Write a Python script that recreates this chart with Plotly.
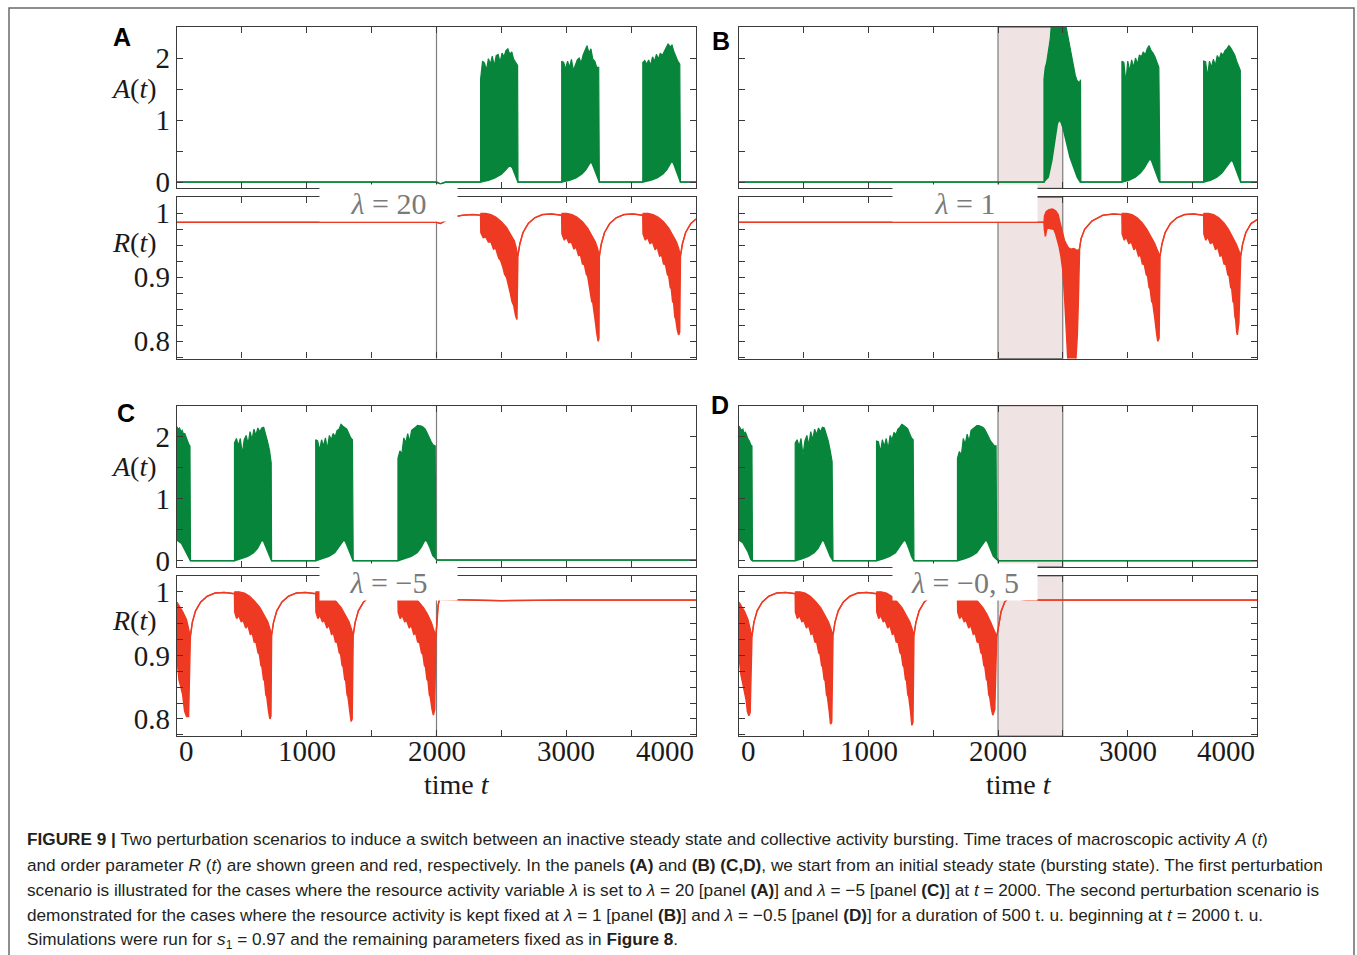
import plotly.graph_objects as go

# ---------------------------------------------------------------------------
# Time traces (t, value).  Bursting phases are stored as an upper ("hi") and a
# lower ("lo") envelope; the area between them is filled.  Quiet phases repeat
# the same points in both envelopes.
# ---------------------------------------------------------------------------

# Panel A: lambda = 20 applied at t = 2000
a_act_hi = [
    (0, 0), (2000, 0), (2030, -0.03), (2070, 0), (2340, 0),
    (2340, 1.66), (2355, 1.95), (2370, 1.92), (2385, 1.80), (2400, 1.99), (2415, 1.90), (2430, 2.03),
    (2445, 1.87), (2460, 2.04), (2475, 2.06), (2490, 1.93), (2505, 2.08), (2520, 2.02), (2535, 2.12),
    (2550, 2.15), (2565, 2.06), (2580, 2.10), (2595, 1.98), (2610, 1.92), (2625, 1.88), (2628, 0),
    (2965, 0), (2965, 1.95), (2980, 1.93), (2995, 1.82), (3010, 1.95), (3025, 1.85), (3040, 1.98),
    (3055, 1.80), (3070, 1.90), (3085, 1.97), (3100, 2.00), (3115, 1.92), (3130, 2.05), (3145, 2.12),
    (3160, 2.20), (3175, 2.08), (3190, 2.15), (3205, 1.98), (3220, 1.95), (3235, 1.85), (3250, 1.85), (3255, 0),
    (3590, 0), (3590, 1.93), (3605, 1.96), (3620, 1.90), (3635, 1.97), (3650, 1.88), (3665, 2.02),
    (3680, 1.95), (3695, 2.06), (3710, 1.98), (3725, 2.08), (3740, 2.04), (3755, 2.10), (3770, 2.15),
    (3785, 2.23), (3800, 2.18), (3815, 2.21), (3830, 2.10), (3845, 2.02), (3860, 1.95), (3875, 1.90), (3880, 0),
    (4000, 0),
]
a_act_lo = [
    (0, 0), (2000, 0), (2030, -0.03), (2070, 0), (2340, 0),
    (2400, 0.03), (2450, 0.07), (2500, 0.13), (2530, 0.19), (2555, 0.25), (2570, 0.26), (2585, 0.23),
    (2600, 0.15), (2615, 0.06), (2628, 0),
    (2965, 0), (3025, 0.03), (3075, 0.07), (3120, 0.13), (3150, 0.20), (3170, 0.28), (3185, 0.32),
    (3200, 0.30), (3220, 0.20), (3240, 0.08), (3255, 0),
    (3590, 0), (3650, 0.03), (3700, 0.07), (3745, 0.13), (3775, 0.20), (3795, 0.28), (3810, 0.33),
    (3825, 0.31), (3845, 0.20), (3865, 0.08), (3880, 0),
    (4000, 0),
]
a_ord_hi = [
    (0, 0.986), (2000, 0.986), (2030, 0.984), (2060, 0.987), (2120, 0.994), (2200, 0.997), (2280, 0.998), (2340, 0.997),
    (2342, 1.0), (2380, 1.0), (2420, 0.998), (2460, 0.994), (2500, 0.987), (2540, 0.978), (2570, 0.968),
    (2600, 0.957), (2615, 0.946), (2627, 0.933),
    (2642, 0.952), (2667, 0.970), (2707, 0.984), (2757, 0.993), (2817, 0.998), (2887, 0.999), (2965, 0.997),
    (2967, 1.0), (3005, 1.0), (3045, 0.998), (3085, 0.994), (3125, 0.987), (3165, 0.977), (3195, 0.967),
    (3225, 0.955), (3242, 0.945), (3255, 0.933),
    (3270, 0.952), (3295, 0.970), (3335, 0.984), (3385, 0.993), (3445, 0.998), (3515, 0.999), (3590, 0.997),
    (3592, 1.0), (3630, 1.0), (3670, 0.998), (3710, 0.994), (3750, 0.987), (3790, 0.977), (3820, 0.967),
    (3850, 0.955), (3867, 0.945), (3880, 0.933),
    (3895, 0.952), (3920, 0.970), (3960, 0.984), (4000, 0.991),
]
a_ord_lo = [
    (0, 0.986), (2000, 0.986), (2030, 0.984), (2060, 0.987), (2120, 0.994), (2200, 0.997), (2280, 0.998), (2340, 0.997),
    (2342, 0.970), (2360, 0.962), (2380, 0.963), (2400, 0.955), (2420, 0.955), (2440, 0.944), (2455, 0.946),
    (2480, 0.930), (2495, 0.926), (2510, 0.917), (2525, 0.905), (2540, 0.900), (2555, 0.884), (2568, 0.876),
    (2582, 0.862), (2595, 0.856), (2610, 0.840), (2620, 0.834), (2627, 0.933),
    (2642, 0.952), (2667, 0.970), (2707, 0.984), (2757, 0.993), (2817, 0.998), (2887, 0.999), (2965, 0.997),
    (2967, 0.968), (2985, 0.958), (3000, 0.963), (3020, 0.954), (3040, 0.955), (3060, 0.944), (3075, 0.948),
    (3095, 0.934), (3110, 0.935), (3125, 0.921), (3140, 0.920), (3155, 0.905), (3165, 0.902), (3178, 0.884),
    (3185, 0.882), (3197, 0.862), (3205, 0.860), (3215, 0.838), (3222, 0.835), (3236, 0.812), (3246, 0.800),
    (3252, 0.805), (3255, 0.933),
    (3270, 0.952), (3295, 0.970), (3335, 0.984), (3385, 0.993), (3445, 0.998), (3515, 0.999), (3590, 0.997),
    (3592, 0.968), (3610, 0.958), (3625, 0.963), (3645, 0.953), (3665, 0.955), (3685, 0.943), (3700, 0.948),
    (3720, 0.933), (3735, 0.935), (3750, 0.921), (3765, 0.920), (3780, 0.904), (3790, 0.902), (3802, 0.884),
    (3810, 0.882), (3820, 0.862), (3828, 0.860), (3837, 0.838), (3843, 0.836), (3856, 0.818), (3866, 0.810),
    (3874, 0.814), (3880, 0.933),
    (3895, 0.952), (3920, 0.970), (3960, 0.984), (4000, 0.991),
]

# Panel B: lambda = 1 held for 2000 <= t <= 2500
b_act_hi = [
    (0, 0), (2355, 0),
    (2355, 1.66), (2365, 1.85), (2375, 1.92), (2385, 2.05), (2394, 2.12), (2403, 2.30), (2411, 2.50),
    (2420, 2.62), (2440, 2.65), (2470, 2.66), (2500, 2.64), (2515, 2.58), (2528, 2.48), (2540, 2.34),
    (2550, 2.22), (2560, 2.10), (2572, 1.96), (2585, 1.82), (2597, 1.72), (2610, 1.64), (2620, 1.62),
    (2630, 1.60), (2637, 1.65), (2640, 0),
    (2957, 0), (2957, 1.95), (2972, 1.93), (2987, 1.60), (3002, 1.95), (3017, 1.78), (3032, 1.97),
    (3047, 1.85), (3062, 2.00), (3077, 1.90), (3092, 2.05), (3107, 2.02), (3122, 2.10), (3137, 2.05),
    (3152, 2.15), (3167, 2.20), (3182, 2.12), (3197, 2.08), (3212, 2.02), (3227, 1.92), (3242, 1.85), (3251, 0),
    (3588, 0), (3588, 1.95), (3603, 1.94), (3618, 1.70), (3633, 1.95), (3648, 1.85), (3663, 1.98),
    (3678, 1.88), (3693, 2.04), (3708, 1.98), (3723, 2.08), (3738, 2.05), (3753, 2.12), (3768, 2.15),
    (3783, 2.20), (3798, 2.16), (3813, 2.10), (3828, 2.05), (3843, 1.95), (3858, 1.85), (3871, 1.80), (3874, 0),
    (4000, 0),
]
b_act_lo = [
    (0, 0), (2355, 0), (2362, 0.02), (2388, 0.08), (2416, 0.35), (2444, 0.73), (2458, 0.94), (2472, 1.0),
    (2486, 0.97), (2500, 0.89), (2528, 0.62), (2556, 0.40), (2584, 0.24), (2612, 0.08), (2635, 0), (2640, 0),
    (2957, 0), (3010, 0.03), (3060, 0.08), (3100, 0.15), (3130, 0.23), (3155, 0.32), (3170, 0.37),
    (3185, 0.35), (3205, 0.24), (3225, 0.10), (3245, 0.01), (3251, 0),
    (3588, 0), (3640, 0.03), (3690, 0.08), (3730, 0.15), (3760, 0.23), (3785, 0.31), (3800, 0.35),
    (3815, 0.33), (3835, 0.22), (3855, 0.09), (3870, 0.01), (3874, 0),
    (4000, 0),
]
b_ord_hi = [
    (0, 0.986), (2355, 0.986),
    (2358, 0.996), (2372, 1.003), (2394, 1.006), (2420, 1.007), (2445, 1.004), (2465, 0.998), (2480, 0.985),
    (2492, 0.975), (2500, 0.970), (2514, 0.958), (2528, 0.952), (2545, 0.946), (2565, 0.944), (2585, 0.945),
    (2605, 0.943), (2620, 0.942), (2630, 0.945),
    (2641, 0.960), (2669, 0.975), (2725, 0.988), (2809, 0.997), (2893, 0.999), (2957, 0.998),
    (2959, 1.0), (2995, 1.0), (3035, 0.998), (3075, 0.993), (3115, 0.985), (3150, 0.975), (3180, 0.965),
    (3210, 0.953), (3230, 0.943), (3251, 0.933),
    (3266, 0.952), (3291, 0.970), (3331, 0.984), (3381, 0.993), (3441, 0.998), (3511, 0.999), (3588, 0.997),
    (3590, 1.0), (3625, 1.0), (3665, 0.998), (3705, 0.993), (3745, 0.985), (3780, 0.975), (3810, 0.964),
    (3840, 0.952), (3860, 0.942), (3874, 0.933),
    (3889, 0.952), (3914, 0.970), (3954, 0.984), (4000, 0.990),
]
b_ord_lo = [
    (0, 0.986), (2355, 0.986),
    (2358, 0.975), (2366, 0.964), (2376, 0.975), (2388, 0.977), (2410, 0.976), (2430, 0.975), (2445, 0.968),
    (2458, 0.960), (2472, 0.948), (2486, 0.933), (2500, 0.912), (2514, 0.870), (2528, 0.818), (2542, 0.760),
    (2598, 0.760), (2605, 0.780), (2612, 0.808), (2620, 0.860), (2627, 0.943), (2630, 0.945),
    (2641, 0.960), (2669, 0.975), (2725, 0.988), (2809, 0.997), (2893, 0.999), (2957, 0.998),
    (2959, 0.968), (2975, 0.958), (2990, 0.963), (3010, 0.953), (3030, 0.955), (3050, 0.943), (3065, 0.948),
    (3085, 0.933), (3100, 0.935), (3115, 0.921), (3130, 0.920), (3145, 0.904), (3155, 0.902), (3167, 0.884),
    (3175, 0.882), (3187, 0.862), (3195, 0.860), (3205, 0.838), (3212, 0.835), (3225, 0.812), (3234, 0.800),
    (3244, 0.805), (3251, 0.933),
    (3266, 0.952), (3291, 0.970), (3331, 0.984), (3381, 0.993), (3441, 0.998), (3511, 0.999), (3588, 0.997),
    (3590, 0.968), (3605, 0.958), (3620, 0.963), (3640, 0.953), (3660, 0.955), (3680, 0.943), (3695, 0.948),
    (3715, 0.933), (3730, 0.935), (3745, 0.921), (3760, 0.920), (3775, 0.904), (3785, 0.902), (3797, 0.884),
    (3805, 0.882), (3815, 0.862), (3822, 0.860), (3830, 0.838), (3835, 0.835), (3843, 0.815), (3848, 0.810),
    (3860, 0.830), (3874, 0.933),
    (3889, 0.952), (3914, 0.970), (3954, 0.984), (4000, 0.990),
]

# Panel C: lambda = -5 applied at t = 2000
c_act_hi = [
    (0, 2.16), (10, 2.12), (20, 2.14), (30, 2.08), (40, 2.10), (50, 2.04), (60, 2.05), (70, 1.98),
    (80, 1.95), (90, 1.88), (100, 1.85), (104, 0),
    (443, 0), (443, 1.90), (458, 1.97), (473, 1.85), (488, 1.97), (503, 1.72), (518, 1.95), (533, 2.02),
    (548, 1.88), (563, 2.08), (578, 1.95), (593, 2.12), (608, 2.02), (623, 2.14), (638, 2.08), (653, 2.14),
    (668, 2.15), (683, 2.05), (698, 1.92), (713, 1.78), (726, 1.58), (729, 0),
    (1069, 0), (1069, 1.95), (1084, 1.93), (1099, 1.78), (1114, 1.95), (1129, 1.85), (1144, 1.98),
    (1159, 1.80), (1174, 2.02), (1189, 1.95), (1204, 2.05), (1219, 2.00), (1234, 2.10), (1249, 2.12),
    (1264, 2.20), (1279, 2.17), (1294, 2.15), (1309, 2.12), (1324, 2.05), (1339, 1.98), (1352, 1.95), (1358, 0),
    (1703, 0), (1703, 1.65), (1718, 1.77), (1733, 1.72), (1748, 1.98), (1763, 1.90), (1778, 2.05),
    (1793, 1.92), (1808, 2.10), (1823, 2.12), (1838, 2.15), (1853, 2.18), (1868, 2.18), (1883, 2.17),
    (1898, 2.15), (1913, 2.12), (1928, 2.06), (1943, 1.98), (1958, 1.92), (1973, 1.87), (1990, 1.85), (1995, 0.03),
    (2005, 0.01), (4000, 0.01),
]
c_act_lo = [
    (0, 0.33), (35, 0.28), (74, 0.12), (94, 0.02), (104, 0),
    (443, 0), (495, 0.03), (545, 0.07), (590, 0.13), (620, 0.20), (640, 0.28), (652, 0.33), (668, 0.31),
    (690, 0.20), (712, 0.07), (729, 0),
    (1069, 0), (1120, 0.03), (1170, 0.07), (1215, 0.13), (1245, 0.21), (1268, 0.29), (1283, 0.33),
    (1298, 0.31), (1318, 0.20), (1340, 0.07), (1358, 0),
    (1703, 0), (1755, 0.03), (1805, 0.07), (1850, 0.13), (1880, 0.21), (1900, 0.29), (1912, 0.33),
    (1928, 0.31), (1950, 0.21), (1972, 0.08), (1995, 0.03),
    (2005, 0.01), (4000, 0.01),
]
c_ord_hi = [
    (0, 0.984), (15, 0.979), (44, 0.969), (74, 0.956), (95, 0.940), (103, 0.930),
    (118, 0.952), (143, 0.970), (183, 0.984), (233, 0.993), (293, 0.998), (363, 0.999), (443, 0.997),
    (445, 1.0), (480, 1.0), (520, 0.998), (560, 0.993), (600, 0.985), (640, 0.975), (670, 0.965),
    (700, 0.953), (715, 0.943), (729, 0.932),
    (744, 0.952), (769, 0.970), (809, 0.984), (859, 0.993), (919, 0.998), (989, 0.999), (1069, 0.997),
    (1071, 1.0), (1106, 1.0), (1146, 0.998), (1186, 0.993), (1226, 0.985), (1266, 0.975), (1296, 0.965),
    (1326, 0.953), (1342, 0.943), (1358, 0.932),
    (1373, 0.952), (1398, 0.970), (1438, 0.984), (1488, 0.993), (1548, 0.998), (1618, 0.999), (1703, 0.997),
    (1705, 1.0), (1740, 1.0), (1780, 0.998), (1820, 0.993), (1860, 0.985), (1900, 0.975), (1930, 0.965),
    (1960, 0.952), (1980, 0.940), (1995, 0.930),
    (2003, 0.950), (2012, 0.978), (2022, 0.988), (2060, 0.988), (2500, 0.986), (3000, 0.987), (4000, 0.987),
]
c_ord_lo = [
    (0, 0.896), (15, 0.862), (30, 0.850), (44, 0.838), (59, 0.812), (74, 0.804), (89, 0.804), (97, 0.880), (103, 0.930),
    (118, 0.952), (143, 0.970), (183, 0.984), (233, 0.993), (293, 0.998), (363, 0.999), (443, 0.997),
    (445, 0.968), (460, 0.958), (475, 0.963), (495, 0.953), (510, 0.955), (530, 0.943), (545, 0.948),
    (565, 0.933), (580, 0.935), (595, 0.921), (610, 0.920), (625, 0.904), (635, 0.902), (647, 0.884),
    (655, 0.882), (667, 0.862), (675, 0.860), (685, 0.838), (692, 0.835), (706, 0.812), (716, 0.800),
    (724, 0.805), (729, 0.932),
    (744, 0.952), (769, 0.970), (809, 0.984), (859, 0.993), (919, 0.998), (989, 0.999), (1069, 0.997),
    (1071, 0.968), (1086, 0.958), (1101, 0.963), (1121, 0.953), (1136, 0.955), (1156, 0.943), (1171, 0.948),
    (1191, 0.933), (1206, 0.935), (1221, 0.921), (1236, 0.920), (1251, 0.904), (1261, 0.902), (1273, 0.884),
    (1281, 0.882), (1293, 0.862), (1301, 0.860), (1311, 0.838), (1318, 0.835), (1332, 0.812), (1342, 0.796),
    (1350, 0.800), (1358, 0.932),
    (1373, 0.952), (1398, 0.970), (1438, 0.984), (1488, 0.993), (1548, 0.998), (1618, 0.999), (1703, 0.997),
    (1705, 0.968), (1720, 0.958), (1735, 0.963), (1755, 0.953), (1770, 0.955), (1790, 0.943), (1805, 0.948),
    (1825, 0.933), (1840, 0.935), (1855, 0.921), (1870, 0.920), (1885, 0.904), (1895, 0.902), (1907, 0.884),
    (1915, 0.882), (1927, 0.862), (1935, 0.860), (1945, 0.838), (1952, 0.835), (1966, 0.815), (1976, 0.806),
    (1986, 0.815), (1995, 0.930),
    (2003, 0.950), (2012, 0.978), (2022, 0.988), (2060, 0.988), (2500, 0.986), (3000, 0.987), (4000, 0.987),
]

# Panel D: lambda = -0.5 held for 2000 <= t <= 2500
d_act_hi = [
    (0, 2.17), (10, 2.13), (20, 2.10), (30, 2.12), (40, 2.05), (50, 2.07), (60, 2.00), (70, 1.96),
    (80, 1.93), (90, 1.87), (100, 1.85), (104, 0),
    (434, 0), (434, 1.90), (449, 1.95), (464, 1.84), (479, 1.97), (494, 1.70), (509, 1.93), (524, 2.02),
    (539, 1.86), (554, 2.08), (569, 1.95), (584, 2.12), (599, 2.03), (614, 2.14), (629, 2.08), (644, 2.15),
    (659, 2.14), (674, 2.05), (689, 1.93), (704, 1.78), (719, 1.60), (726, 0),
    (1062, 0), (1062, 1.93), (1077, 1.92), (1092, 1.75), (1107, 1.95), (1122, 1.84), (1137, 1.97),
    (1152, 1.80), (1167, 2.02), (1182, 1.95), (1197, 2.07), (1212, 2.03), (1227, 2.12), (1242, 2.15),
    (1257, 2.20), (1272, 2.18), (1287, 2.16), (1302, 2.13), (1317, 2.05), (1332, 1.98), (1345, 1.95), (1351, 0),
    (1687, 0), (1687, 1.65), (1702, 1.76), (1717, 1.70), (1732, 1.97), (1747, 1.88), (1762, 2.04),
    (1777, 1.92), (1792, 2.10), (1807, 2.13), (1822, 2.15), (1837, 2.18), (1852, 2.18), (1867, 2.17),
    (1882, 2.15), (1897, 2.12), (1912, 2.07), (1927, 2.00), (1942, 1.93), (1957, 1.88), (1972, 1.85),
    (1985, 1.85), (1990, 0.05),
    (2005, 0), (4000, 0),
]
d_act_lo = [
    (0, 0.33), (30, 0.29), (70, 0.14), (92, 0.02), (104, 0),
    (434, 0), (485, 0.03), (535, 0.07), (580, 0.13), (610, 0.20), (630, 0.28), (642, 0.33), (658, 0.31),
    (680, 0.20), (705, 0.07), (726, 0),
    (1062, 0), (1113, 0.03), (1163, 0.07), (1208, 0.13), (1238, 0.21), (1261, 0.29), (1274, 0.33),
    (1290, 0.31), (1311, 0.20), (1333, 0.07), (1351, 0),
    (1687, 0), (1740, 0.03), (1790, 0.07), (1835, 0.13), (1865, 0.21), (1888, 0.29), (1903, 0.33),
    (1918, 0.31), (1940, 0.20), (1965, 0.07), (1990, 0.02),
    (2005, 0), (4000, 0),
]
d_ord_hi = [
    (0, 0.984), (15, 0.979), (44, 0.969), (70, 0.956), (90, 0.940), (100, 0.930),
    (115, 0.952), (140, 0.970), (180, 0.984), (230, 0.993), (290, 0.998), (360, 0.999), (434, 0.997),
    (436, 1.0), (471, 1.0), (511, 0.998), (551, 0.993), (591, 0.985), (631, 0.975), (661, 0.965),
    (691, 0.953), (708, 0.943), (726, 0.932),
    (741, 0.952), (766, 0.970), (806, 0.984), (856, 0.993), (916, 0.998), (986, 0.999), (1062, 0.997),
    (1064, 1.0), (1099, 1.0), (1139, 0.998), (1179, 0.993), (1219, 0.985), (1259, 0.975), (1289, 0.965),
    (1319, 0.953), (1335, 0.943), (1351, 0.932),
    (1366, 0.952), (1391, 0.970), (1431, 0.984), (1481, 0.993), (1541, 0.998), (1611, 0.999), (1687, 0.997),
    (1689, 1.0), (1724, 1.0), (1764, 0.998), (1804, 0.993), (1844, 0.985), (1884, 0.975), (1914, 0.965),
    (1944, 0.952), (1970, 0.940), (1990, 0.930),
    (2000, 0.940), (2024, 0.969), (2052, 0.984), (2080, 0.990), (2108, 0.990), (2164, 0.988), (2220, 0.987),
    (3000, 0.987), (4000, 0.987),
]
d_ord_lo = [
    (0, 0.900), (15, 0.870), (35, 0.850), (55, 0.830), (65, 0.812), (76, 0.805), (86, 0.810), (94, 0.870), (100, 0.930),
    (115, 0.952), (140, 0.970), (180, 0.984), (230, 0.993), (290, 0.998), (360, 0.999), (434, 0.997),
    (436, 0.968), (451, 0.958), (466, 0.963), (486, 0.953), (501, 0.955), (521, 0.943), (536, 0.948),
    (556, 0.933), (571, 0.935), (586, 0.921), (601, 0.920), (616, 0.904), (626, 0.902), (638, 0.884),
    (646, 0.882), (658, 0.862), (666, 0.860), (676, 0.838), (683, 0.835), (697, 0.812), (707, 0.792),
    (716, 0.795), (726, 0.932),
    (741, 0.952), (766, 0.970), (806, 0.984), (856, 0.993), (916, 0.998), (986, 0.999), (1062, 0.997),
    (1064, 0.968), (1079, 0.958), (1094, 0.963), (1114, 0.953), (1129, 0.955), (1149, 0.943), (1164, 0.948),
    (1184, 0.933), (1199, 0.935), (1214, 0.921), (1229, 0.920), (1244, 0.904), (1254, 0.902), (1266, 0.884),
    (1274, 0.882), (1286, 0.862), (1294, 0.860), (1304, 0.838), (1311, 0.835), (1325, 0.812), (1335, 0.790),
    (1343, 0.795), (1351, 0.932),
    (1366, 0.952), (1391, 0.970), (1431, 0.984), (1481, 0.993), (1541, 0.998), (1611, 0.999), (1687, 0.997),
    (1689, 0.968), (1704, 0.958), (1719, 0.963), (1739, 0.953), (1754, 0.955), (1774, 0.943), (1789, 0.948),
    (1809, 0.933), (1824, 0.935), (1839, 0.921), (1854, 0.920), (1869, 0.904), (1879, 0.902), (1891, 0.884),
    (1899, 0.882), (1911, 0.862), (1919, 0.860), (1929, 0.838), (1936, 0.835), (1950, 0.815), (1960, 0.806),
    (1975, 0.815), (1990, 0.930),
    (2000, 0.940), (2024, 0.969), (2052, 0.984), (2080, 0.990), (2108, 0.990), (2164, 0.988), (2220, 0.987),
    (3000, 0.987), (4000, 0.987),
]

# Perturbation settings per panel
panel_letters = ["A", "B", "C", "D"]
lambda_labels = ["<i>λ</i> = 20", "<i>λ</i> = 1", "<i>λ</i> = −5", "<i>λ</i> = −0, 5"]
perturb_windows = [(2000, None), (2000, 2500), (2000, None), (2000, 2500)]

x_tick_labels = ["0", "1000", "2000", "3000", "4000"]
x_tick_label_pos = [0, 1000, 2000, 3000, 4000]
act_ticks = [0, 1, 2]
act_tick_text = ["0", "1", "2"]
ord_ticks = [0.8, 0.9, 1.0]
ord_tick_text = ["0.8", "0.9", "1"]

caption_lines = [
    "<b>FIGURE 9</b> <b>|</b> Two perturbation scenarios to induce a switch between an inactive steady state and "
    "collective activity bursting. Time traces of macroscopic activity <i>A</i> (<i>t</i>)",
    "and order parameter <i>R</i> (<i>t</i>) are shown green and red, respectively. In the panels <b>(A)</b> and "
    "<b>(B) (C,D)</b>, we start from an initial steady state (bursting state). The first perturbation",
    "scenario is illustrated for the cases where the resource activity variable <i>λ</i> is set to <i>λ</i> = 20 "
    "[panel <b>(A)</b>] and <i>λ</i> = −5 [panel <b>(C)</b>] at <i>t</i> = 2000. The second perturbation scenario is",
    "demonstrated for the cases where the resource activity is kept fixed at <i>λ</i> = 1 [panel <b>(B)</b>] and "
    "<i>λ</i> = −0.5 [panel <b>(D)</b>] for a duration of 500 t. u. beginning at <i>t</i> = 2000 t. u.",
    "Simulations were run for <i>s</i><sub>1</sub> = 0.97 and the remaining parameters fixed as in <b>Figure 8</b>.",
]

# ---------------------------------------------------------------------------
# Layout geometry (pixel positions on the page)
# ---------------------------------------------------------------------------
W, H = 1357, 955
YS = 0.988  # vertical page scale correction
GREEN = "#07853a"
RED = "#ee3a22"
FRAME = "#3a3a3a"
SERIF = "Liberation Serif, DejaVu Serif, serif"
SANS = "Liberation Sans, Arial, sans-serif"


def fx(px):
    return px / W


def fy(py):
    return 1 - py / (H * YS)


col_px = [(177, 696), (739, 1257)]
# (activity box, order-parameter box) vertical extents for the two rows
row_px = [((27, 188), (197, 358)), ((405, 566), (575, 735))]
time_label_cx = [457, 1019]

series = [
    (a_act_hi, a_act_lo, a_ord_hi, a_ord_lo),
    (b_act_hi, b_act_lo, b_ord_hi, b_ord_lo),
    (c_act_hi, c_act_lo, c_ord_hi, c_ord_lo),
    (d_act_hi, d_act_lo, d_ord_hi, d_ord_lo),
]

fig = go.Figure()
layout = dict(
    width=W, height=H, margin=dict(l=0, r=0, t=0, b=0),
    paper_bgcolor="white", plot_bgcolor="white", showlegend=False,
    annotations=[], shapes=[],
)


def axis_common():
    return dict(showline=True, linecolor=FRAME, linewidth=1.3, mirror="ticks",
                ticks="inside", ticklen=6, tickwidth=1, tickcolor=FRAME,
                showgrid=False, zeroline=False, fixedrange=True)


def unzip(pairs):
    return [p[0] for p in pairs], [p[1] for p in pairs]


for p in range(4):
    row, col = divmod(p, 2)
    x0, x1 = col_px[col]
    act_box, ord_box = row_px[row]
    act_hi, act_lo, ord_hi, ord_lo = series[p]
    left_col = col == 0
    bottom_row = row == 1

    for k, (box, hi, lo, color, ticks, ttext, yr, minor_step) in enumerate([
        (act_box, act_hi, act_lo, GREEN, act_ticks, act_tick_text, [-0.1, 2.5], 0.5),
        (ord_box, ord_hi, ord_lo, RED, ord_ticks, ord_tick_text, [0.773, 1.025], 0.025),
    ]):
        idx = 2 * p + k + 1
        xa = "x" if idx == 1 else f"x{idx}"
        ya = "y" if idx == 1 else f"y{idx}"
        xkey = "xaxis" if idx == 1 else f"xaxis{idx}"
        ykey = "yaxis" if idx == 1 else f"yaxis{idx}"

        layout[xkey] = dict(axis_common(), domain=[fx(x0), fx(x1)], range=[0, 4000],
                            tickmode="linear", tick0=0, dtick=1000, showticklabels=False,
                            minor=dict(ticks="inside", ticklen=6, tickcolor=FRAME, dtick=500, tick0=0),
                            anchor=ya)
        layout[ykey] = dict(axis_common(), domain=[fy(box[1]), fy(box[0])], range=yr,
                            tickvals=ticks, ticktext=ttext, showticklabels=left_col,
                            tickfont=dict(family=SERIF, size=29, color="#1a1a1a"),
                            minor=dict(ticks="inside", ticklen=6, tickcolor=FRAME,
                                       dtick=minor_step, tick0=0),
                            anchor=xa)

        tl, vl = unzip(lo)
        th, vh = unzip(hi)
        fig.add_trace(go.Scatter(x=tl, y=vl, mode="lines", xaxis=xa, yaxis=ya,
                                 line=dict(color=color, width=1.5), hoverinfo="skip"))
        fig.add_trace(go.Scatter(x=th, y=vh, mode="lines", xaxis=xa, yaxis=ya,
                                 line=dict(color=color, width=1.2), fill="tonexty",
                                 fillcolor=color, hoverinfo="skip"))

        # perturbation marker: line at onset, shaded window for transient ones
        t_on, t_off = perturb_windows[p]
        if t_off is None:
            layout["shapes"].append(dict(type="line", xref=xa, yref=f"{ya} domain",
                                         x0=t_on, x1=t_on, y0=0, y1=1, layer="below",
                                         line=dict(color="#7d7d7d", width=1.2)))
        else:
            layout["shapes"].append(dict(type="rect", xref=xa, yref=f"{ya} domain",
                                         x0=t_on, x1=t_off, y0=0, y1=1, layer="below",
                                         fillcolor="rgb(239,228,227)",
                                         line=dict(color="#7d7d7d", width=1.2)))

        if left_col:
            label = "<i>A</i>(<i>t</i>)" if k == 0 else "<i>R</i>(<i>t</i>)"
            ly = 88 if k == 0 else 242
            layout["annotations"].append(dict(
                text=label, xref="paper", yref="paper", x=fx(134), y=fy(ly + row * 378),
                xanchor="center", yanchor="middle", showarrow=False,
                font=dict(family=SERIF, size=28, color="#1a1a1a")))

        if k == 1 and bottom_row:
            for t, lab in zip(x_tick_label_pos, x_tick_labels):
                anchor = "left" if t == 0 else ("right" if t == 4000 else "center")
                layout["annotations"].append(dict(
                    text=lab, xref=xa, yref="paper", x=t, y=fy(750),
                    xanchor=anchor, yanchor="middle", showarrow=False,
                    font=dict(family=SERIF, size=29, color="#1a1a1a")))
            layout["annotations"].append(dict(
                text="time <i>t</i>", xref="paper", yref="paper",
                x=fx(time_label_cx[col]), y=fy(783), xanchor="center", yanchor="middle",
                showarrow=False, font=dict(family=SERIF, size=28, color="#1a1a1a")))

    # lambda label sitting on the gap between the two boxes
    lam_cx = 388 if left_col else 965
    lam_w = 135 if left_col else 142
    layout["annotations"].append(dict(
        text=lambda_labels[p], xref="paper", yref="paper",
        x=fx(lam_cx), y=fy(act_box[1] + 15), xanchor="center", yanchor="middle",
        width=lam_w, height=34, bgcolor="white", showarrow=False,
        font=dict(family=SERIF, size=30, color="#7a7a7a")))

# panel letters
for letter, (lx, ly) in zip(panel_letters, [(122, 37), (721, 41), (126, 412), (720, 404)]):
    layout["annotations"].append(dict(
        text=f"<b>{letter}</b>", xref="paper", yref="paper", x=fx(lx), y=fy(ly),
        xanchor="center", yanchor="middle", showarrow=False,
        font=dict(family=SANS, size=25, color="black")))

# caption
for i, line in enumerate(caption_lines):
    layout["annotations"].append(dict(
        text=line, xref="paper", yref="paper", x=fx(25), y=fy(838 + i * 25.3),
        xanchor="left", yanchor="middle", showarrow=False, align="left",
        font=dict(family=SANS, size=17.2, color="#231f20")))

# outer frame
layout["shapes"].append(dict(type="rect", xref="paper", yref="paper",
                             x0=fx(9), x1=fx(1354), y0=-0.02, y1=fy(8),
                             line=dict(color="#6a6a6a", width=1.5), layer="above"))

fig.update_layout(**layout)
fig.write_html("out.html")
